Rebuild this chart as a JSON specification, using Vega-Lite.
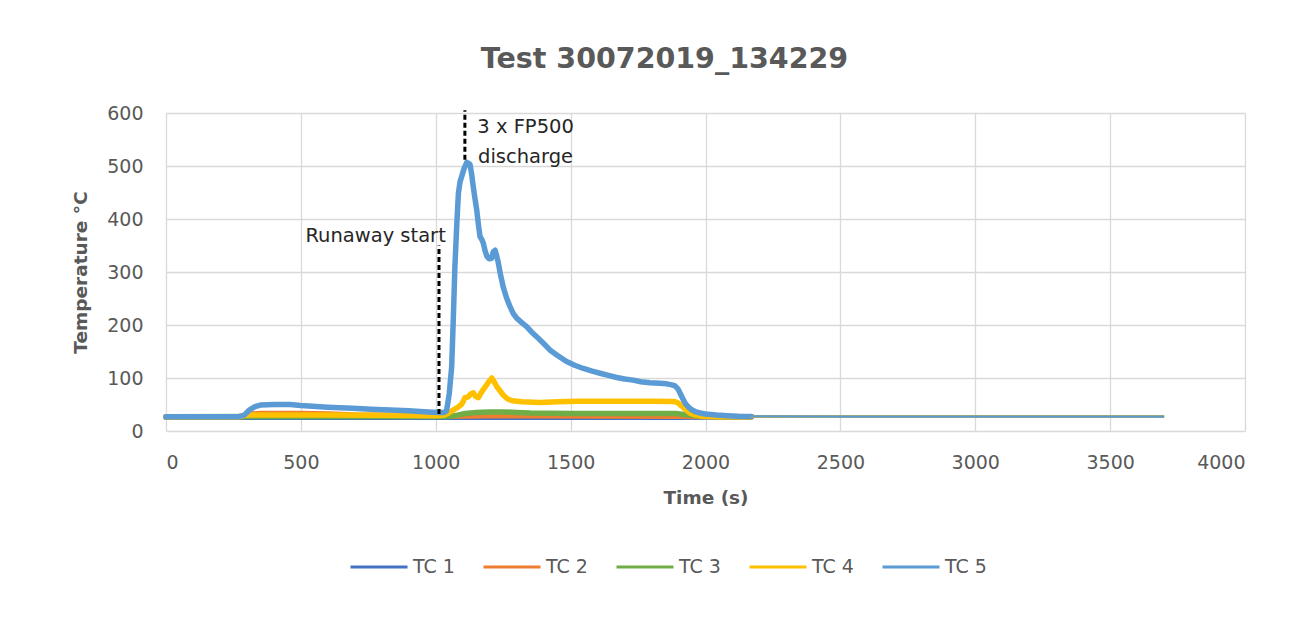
{
  "$schema": "https://vega.github.io/schema/vega-lite/v6.json",
  "width": 1079,
  "height": 318,
  "autosize": {"type": "none"},
  "padding": {"left": 166, "top": 113, "right": 49, "bottom": 191},
  "background": "white",
  "config": {
    "view": {"stroke": null},
    "font": "DejaVu Sans",
    "axis": {
      "grid": true,
      "gridColor": "#d9d9d9",
      "gridWidth": 1.3,
      "domain": false,
      "ticks": false,
      "tickSize": 0,
      "labelColor": "#595959",
      "labelFont": "DejaVu Sans",
      "labelFontSize": 19,
      "titleColor": "#595959",
      "titleFont": "DejaVu Sans",
      "titleFontSize": 18.5,
      "titleFontWeight": "bold"
    }
  },
  "title": {
    "text": "Test 30072019_134229",
    "font": "DejaVu Sans",
    "fontSize": 28.5,
    "fontWeight": "bold",
    "color": "#595959",
    "anchor": "middle",
    "frame": "group",
    "dx": -41,
    "baseline": "alphabetic",
    "offset": 8
  },
  "datasets": {
    "tc": [
      {"s": "TC 1", "t": 0, "v": 26},
      {"s": "TC 1", "t": 280, "v": 26},
      {"s": "TC 1", "t": 1000, "v": 26},
      {"s": "TC 1", "t": 1100, "v": 26},
      {"s": "TC 1", "t": 1500, "v": 26},
      {"s": "TC 1", "t": 1900, "v": 26},
      {"s": "TC 1", "t": 2000, "v": 26.5},
      {"s": "TC 1", "t": 2170, "v": 27},
      {"s": "TC 1", "t": 2500, "v": 27},
      {"s": "TC 1", "t": 3000, "v": 27},
      {"s": "TC 1", "t": 3500, "v": 27},
      {"s": "TC 1", "t": 3700, "v": 27},

      {"s": "TC 2", "t": 0, "v": 27},
      {"s": "TC 2", "t": 280, "v": 27},
      {"s": "TC 2", "t": 300, "v": 31},
      {"s": "TC 2", "t": 350, "v": 33},
      {"s": "TC 2", "t": 500, "v": 33},
      {"s": "TC 2", "t": 600, "v": 32},
      {"s": "TC 2", "t": 700, "v": 30},
      {"s": "TC 2", "t": 1000, "v": 29},
      {"s": "TC 2", "t": 1050, "v": 28},
      {"s": "TC 2", "t": 1200, "v": 29},
      {"s": "TC 2", "t": 1300, "v": 29},
      {"s": "TC 2", "t": 1900, "v": 28},
      {"s": "TC 2", "t": 2000, "v": 27.5},
      {"s": "TC 2", "t": 2170, "v": 27},
      {"s": "TC 2", "t": 2500, "v": 27},
      {"s": "TC 2", "t": 3000, "v": 27},
      {"s": "TC 2", "t": 3500, "v": 27},
      {"s": "TC 2", "t": 3700, "v": 27},

      {"s": "TC 3", "t": 0, "v": 27},
      {"s": "TC 3", "t": 500, "v": 27.5},
      {"s": "TC 3", "t": 1050, "v": 27.5},
      {"s": "TC 3", "t": 1080, "v": 30},
      {"s": "TC 3", "t": 1110, "v": 33},
      {"s": "TC 3", "t": 1150, "v": 35},
      {"s": "TC 3", "t": 1200, "v": 36},
      {"s": "TC 3", "t": 1250, "v": 36},
      {"s": "TC 3", "t": 1300, "v": 35},
      {"s": "TC 3", "t": 1350, "v": 34},
      {"s": "TC 3", "t": 1500, "v": 33},
      {"s": "TC 3", "t": 1700, "v": 33},
      {"s": "TC 3", "t": 1890, "v": 33},
      {"s": "TC 3", "t": 1920, "v": 31},
      {"s": "TC 3", "t": 1960, "v": 29},
      {"s": "TC 3", "t": 2000, "v": 28},
      {"s": "TC 3", "t": 2050, "v": 27},
      {"s": "TC 3", "t": 2170, "v": 27},
      {"s": "TC 3", "t": 2500, "v": 27},
      {"s": "TC 3", "t": 3000, "v": 27},
      {"s": "TC 3", "t": 3500, "v": 27},
      {"s": "TC 3", "t": 3700, "v": 27},

      {"s": "TC 4", "t": 0, "v": 27},
      {"s": "TC 4", "t": 270, "v": 27},
      {"s": "TC 4", "t": 290, "v": 29},
      {"s": "TC 4", "t": 310, "v": 30},
      {"s": "TC 4", "t": 600, "v": 30},
      {"s": "TC 4", "t": 800, "v": 29.5},
      {"s": "TC 4", "t": 1000, "v": 29},
      {"s": "TC 4", "t": 1030, "v": 29.5},
      {"s": "TC 4", "t": 1045, "v": 33},
      {"s": "TC 4", "t": 1060, "v": 38},
      {"s": "TC 4", "t": 1080, "v": 44},
      {"s": "TC 4", "t": 1095, "v": 50},
      {"s": "TC 4", "t": 1102, "v": 56},
      {"s": "TC 4", "t": 1108, "v": 63},
      {"s": "TC 4", "t": 1120, "v": 64},
      {"s": "TC 4", "t": 1130, "v": 70},
      {"s": "TC 4", "t": 1139, "v": 72},
      {"s": "TC 4", "t": 1148, "v": 65},
      {"s": "TC 4", "t": 1158, "v": 63},
      {"s": "TC 4", "t": 1168, "v": 72},
      {"s": "TC 4", "t": 1176, "v": 78},
      {"s": "TC 4", "t": 1186, "v": 85},
      {"s": "TC 4", "t": 1195, "v": 92},
      {"s": "TC 4", "t": 1208, "v": 100},
      {"s": "TC 4", "t": 1216, "v": 93},
      {"s": "TC 4", "t": 1226, "v": 84},
      {"s": "TC 4", "t": 1238, "v": 76},
      {"s": "TC 4", "t": 1250, "v": 68},
      {"s": "TC 4", "t": 1265, "v": 61},
      {"s": "TC 4", "t": 1284, "v": 57},
      {"s": "TC 4", "t": 1320, "v": 55},
      {"s": "TC 4", "t": 1384, "v": 54},
      {"s": "TC 4", "t": 1455, "v": 55},
      {"s": "TC 4", "t": 1526, "v": 56},
      {"s": "TC 4", "t": 1600, "v": 56},
      {"s": "TC 4", "t": 1700, "v": 56},
      {"s": "TC 4", "t": 1800, "v": 56},
      {"s": "TC 4", "t": 1885, "v": 55.5},
      {"s": "TC 4", "t": 1898, "v": 53},
      {"s": "TC 4", "t": 1912, "v": 47},
      {"s": "TC 4", "t": 1929, "v": 39},
      {"s": "TC 4", "t": 1945, "v": 33},
      {"s": "TC 4", "t": 1962, "v": 30},
      {"s": "TC 4", "t": 1985, "v": 28},
      {"s": "TC 4", "t": 2050, "v": 27},
      {"s": "TC 4", "t": 2170, "v": 27},
      {"s": "TC 4", "t": 2500, "v": 27},
      {"s": "TC 4", "t": 3000, "v": 27},
      {"s": "TC 4", "t": 3500, "v": 27},
      {"s": "TC 4", "t": 3700, "v": 27},

      {"s": "TC 5", "t": 0, "v": 27},
      {"s": "TC 5", "t": 100, "v": 27},
      {"s": "TC 5", "t": 200, "v": 27},
      {"s": "TC 5", "t": 270, "v": 27},
      {"s": "TC 5", "t": 290, "v": 30},
      {"s": "TC 5", "t": 310, "v": 40},
      {"s": "TC 5", "t": 330, "v": 46},
      {"s": "TC 5", "t": 350, "v": 49},
      {"s": "TC 5", "t": 400, "v": 50},
      {"s": "TC 5", "t": 460, "v": 50},
      {"s": "TC 5", "t": 500, "v": 48},
      {"s": "TC 5", "t": 600, "v": 45},
      {"s": "TC 5", "t": 690, "v": 43},
      {"s": "TC 5", "t": 760, "v": 41},
      {"s": "TC 5", "t": 830, "v": 39.5},
      {"s": "TC 5", "t": 900, "v": 38},
      {"s": "TC 5", "t": 970, "v": 36},
      {"s": "TC 5", "t": 1015, "v": 35},
      {"s": "TC 5", "t": 1030, "v": 35},
      {"s": "TC 5", "t": 1040, "v": 38},
      {"s": "TC 5", "t": 1050, "v": 70},
      {"s": "TC 5", "t": 1059, "v": 121},
      {"s": "TC 5", "t": 1065, "v": 210},
      {"s": "TC 5", "t": 1071, "v": 310},
      {"s": "TC 5", "t": 1078, "v": 390},
      {"s": "TC 5", "t": 1084, "v": 449},
      {"s": "TC 5", "t": 1090, "v": 470},
      {"s": "TC 5", "t": 1096, "v": 480},
      {"s": "TC 5", "t": 1105, "v": 495},
      {"s": "TC 5", "t": 1115, "v": 507},
      {"s": "TC 5", "t": 1122, "v": 505},
      {"s": "TC 5", "t": 1127, "v": 503},
      {"s": "TC 5", "t": 1133, "v": 485},
      {"s": "TC 5", "t": 1139, "v": 461},
      {"s": "TC 5", "t": 1145, "v": 440},
      {"s": "TC 5", "t": 1152, "v": 417},
      {"s": "TC 5", "t": 1158, "v": 390},
      {"s": "TC 5", "t": 1164, "v": 367},
      {"s": "TC 5", "t": 1170, "v": 362},
      {"s": "TC 5", "t": 1176, "v": 355},
      {"s": "TC 5", "t": 1183, "v": 340},
      {"s": "TC 5", "t": 1190, "v": 329},
      {"s": "TC 5", "t": 1198, "v": 325},
      {"s": "TC 5", "t": 1207, "v": 326},
      {"s": "TC 5", "t": 1213, "v": 338},
      {"s": "TC 5", "t": 1220, "v": 341},
      {"s": "TC 5", "t": 1226, "v": 330},
      {"s": "TC 5", "t": 1232, "v": 317},
      {"s": "TC 5", "t": 1240, "v": 295},
      {"s": "TC 5", "t": 1250, "v": 272},
      {"s": "TC 5", "t": 1262, "v": 252},
      {"s": "TC 5", "t": 1275, "v": 235},
      {"s": "TC 5", "t": 1287, "v": 222},
      {"s": "TC 5", "t": 1300, "v": 213},
      {"s": "TC 5", "t": 1320, "v": 204},
      {"s": "TC 5", "t": 1337, "v": 197},
      {"s": "TC 5", "t": 1355, "v": 187},
      {"s": "TC 5", "t": 1374, "v": 178},
      {"s": "TC 5", "t": 1400, "v": 165},
      {"s": "TC 5", "t": 1423, "v": 153},
      {"s": "TC 5", "t": 1450, "v": 143},
      {"s": "TC 5", "t": 1485, "v": 131},
      {"s": "TC 5", "t": 1515, "v": 124},
      {"s": "TC 5", "t": 1547, "v": 118},
      {"s": "TC 5", "t": 1580, "v": 113},
      {"s": "TC 5", "t": 1609, "v": 109},
      {"s": "TC 5", "t": 1640, "v": 105},
      {"s": "TC 5", "t": 1671, "v": 101},
      {"s": "TC 5", "t": 1700, "v": 98},
      {"s": "TC 5", "t": 1732, "v": 96},
      {"s": "TC 5", "t": 1760, "v": 93},
      {"s": "TC 5", "t": 1794, "v": 91},
      {"s": "TC 5", "t": 1830, "v": 90},
      {"s": "TC 5", "t": 1856, "v": 89},
      {"s": "TC 5", "t": 1875, "v": 87},
      {"s": "TC 5", "t": 1887, "v": 85},
      {"s": "TC 5", "t": 1897, "v": 80},
      {"s": "TC 5", "t": 1906, "v": 71},
      {"s": "TC 5", "t": 1915, "v": 62},
      {"s": "TC 5", "t": 1924, "v": 53},
      {"s": "TC 5", "t": 1935, "v": 46},
      {"s": "TC 5", "t": 1949, "v": 40},
      {"s": "TC 5", "t": 1965, "v": 36},
      {"s": "TC 5", "t": 1980, "v": 34},
      {"s": "TC 5", "t": 2000, "v": 32},
      {"s": "TC 5", "t": 2041, "v": 30},
      {"s": "TC 5", "t": 2080, "v": 29},
      {"s": "TC 5", "t": 2120, "v": 28},
      {"s": "TC 5", "t": 2170, "v": 27.5},
      {"s": "TC 5", "t": 2500, "v": 27},
      {"s": "TC 5", "t": 3000, "v": 27},
      {"s": "TC 5", "t": 3500, "v": 27},
      {"s": "TC 5", "t": 3700, "v": 27}
    ],
    "markers": [
      {"event": "Runaway start", "t": 1012, "from": 32, "to": 350},
      {"event": "3 x FP500 discharge", "t": 1108, "from": 512, "to": 605}
    ],
    "notes": [
      {"t": 777, "v": 357, "label": "Runaway start"},
      {"t": 1333, "v": 562, "label": "3 x FP500"},
      {"t": 1333, "v": 506, "label": "discharge"}
    ]
  },
  "layer": [
    {
      "data": {"name": "tc"},
      "transform": [{"filter": "datum.t <= 2170"}],
      "mark": {"type": "line", "strokeWidth": 5.5, "strokeJoin": "round", "strokeCap": "round"},
      "encoding": {
        "x": {
          "field": "t", "type": "quantitative",
          "scale": {"domain": [0, 4000], "nice": false},
          "axis": {"title": "Time (s)", "format": "d", "values": [0, 500, 1000, 1500, 2000, 2500, 3000, 3500, 4000], "labelPadding": 22, "titlePadding": 16}
        },
        "y": {
          "field": "v", "type": "quantitative",
          "scale": {"domain": [0, 600], "nice": false},
          "axis": {"title": "Temperature °C", "values": [0, 100, 200, 300, 400, 500, 600], "labelPadding": 23, "titlePadding": 16}
        },
        "color": {
          "field": "s", "type": "nominal",
          "scale": {"domain": ["TC 1", "TC 2", "TC 3", "TC 4", "TC 5"], "range": ["#4472C4", "#ED7D31", "#70AD47", "#FFC000", "#5B9BD5"]},
          "legend": {
            "title": null,
            "orient": "none",
            "direction": "horizontal",
            "legendX": 183,
            "legendY": 424,
            "symbolType": "stroke",
            "symbolSize": 3249,
            "symbolStrokeWidth": 3,
            "labelOffset": 4,
            "labelFont": "DejaVu Sans",
            "labelFontSize": 19,
            "labelColor": "#595959",
            "columnPadding": 22
          }
        }
      }
    },
    {
      "data": {"name": "tc"},
      "transform": [{"filter": "datum.t >= 2170"}],
      "mark": {"type": "line", "strokeWidth": 2.2},
      "encoding": {
        "x": {"field": "t", "type": "quantitative"},
        "y": {"field": "v", "type": "quantitative"},
        "color": {"field": "s", "type": "nominal", "legend": null}
      }
    },
    {
      "data": {"name": "markers"},
      "mark": {"type": "rule", "color": "black", "strokeWidth": 3, "strokeDash": [5, 3]},
      "encoding": {
        "x": {"field": "t", "type": "quantitative"},
        "y": {"field": "from", "type": "quantitative"},
        "y2": {"field": "to"}
      }
    },
    {
      "data": {"name": "notes"},
      "mark": {"type": "text", "font": "DejaVu Sans", "fontSize": 19.5, "color": "#262626", "align": "center", "baseline": "alphabetic"},
      "encoding": {
        "x": {"field": "t", "type": "quantitative"},
        "y": {"field": "v", "type": "quantitative"},
        "text": {"field": "label"}
      }
    }
  ]
}
